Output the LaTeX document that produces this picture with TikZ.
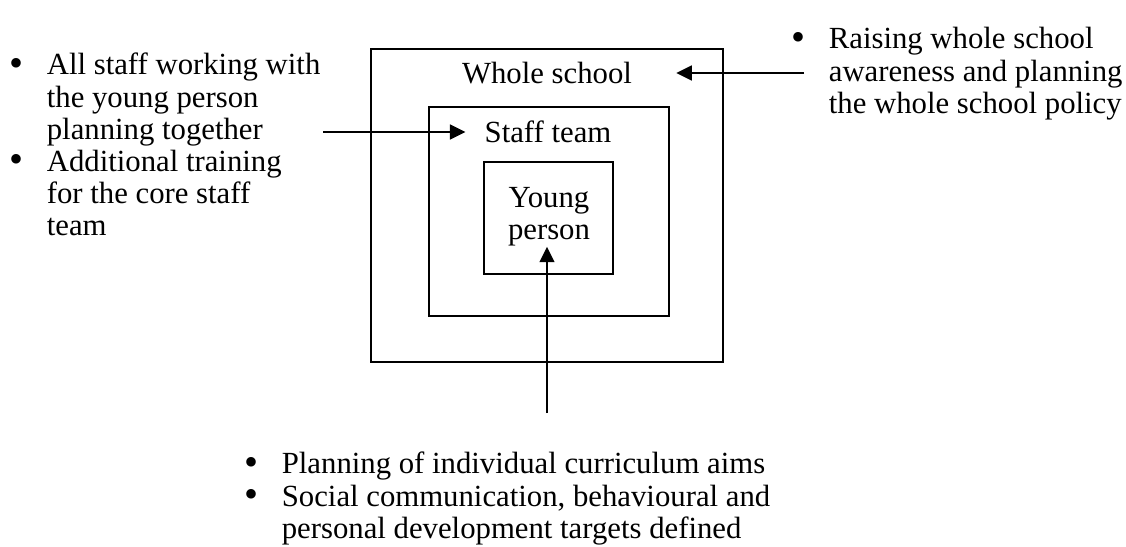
\documentclass[tikz,border=0pt]{standalone}
\usepackage{fontspec}
\setmainfont{Liberation Serif}
\usetikzlibrary{arrows.meta}
\tikzset{
	box/.style={draw, line width=1.1pt, inner sep=0pt},
	label text/.style={align=center, inner sep=0pt, font=\fontsize{17.5}{18.3}\selectfont},
	bullet list/.style={anchor=north west, inner sep=0pt, font=\fontsize{17.5}{18.3}\selectfont},
	arrow/.style={-{Triangle[length=8.8pt, width=8.5pt]}, line width=1pt}
}
\newcommand{\blt}{\makebox[0.75cm][l]{\raisebox{-0.05em}{\scalebox{1.3}{\textbullet}}}}

\begin{document}
\begin{tikzpicture}[x=0.02cm, y=-0.02cm]
	\useasboundingbox (0,0) rectangle (1126,547);

	\node[box, minimum width=7.04cm, minimum height=6.26cm] at (547,205.5) (school-box) {};
	\node[box, minimum width=4.8cm, minimum height=4.18cm] at (549,211.5) (team-box) {};
	\node[box, minimum width=2.58cm, minimum height=2.24cm] at (548.5,218) (young-box) {};

	\node[label text] at (547,73) (whole) {Whole school};
	\node[label text] at (548,132) (staff) {Staff team};
	\node[label text] at (549,217) (young) {Young\\person};

	\node[bullet list] at (9,52) (team-list) {\begin{tabular}{@{}l@{}l@{}}
		\blt & All staff working with\\
		     & the young person\\
		     & planning together\\
		\blt & Additional training\\
		     & for the core staff\\
		     & team
	\end{tabular}};
	\node[bullet list] at (791,26) (school-list) {\begin{tabular}{@{}l@{}l@{}}
		\blt & Raising whole school\\
		     & awareness and planning\\
		     & the whole school policy
	\end{tabular}};
	\node[bullet list] at (244,451) (young-list) {\begin{tabular}{@{}l@{}l@{}}
		\blt & Planning of individual curriculum aims\\
		\blt & Social communication, behavioural and\\
		     & personal development targets defined
	\end{tabular}};

	\coordinate (policy-start) at (804,73);
	\coordinate (team-start) at (323,132);
	\coordinate (aims-start) at (547,413);

	\draw[arrow] (policy-start) -- ([xshift=0.88cm]whole.east);
	\draw[arrow] (team-start) -- ([xshift=-0.38cm]staff.west);
	\draw[arrow] (aims-start) -- (aims-start |- young.south);
\end{tikzpicture}
\end{document}
